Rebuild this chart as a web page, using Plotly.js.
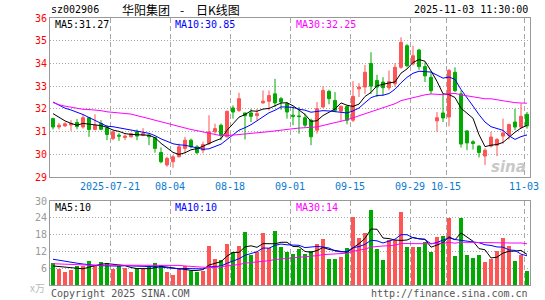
<!DOCTYPE html>
<html><head><meta charset="utf-8">
<script src="https://cdn.plot.ly/plotly-3.0.1.min.js"></script>
<style>html,body{margin:0;padding:0;background:#fff;}#chart{width:545px;height:300px;}</style>
</head><body><div id="chart"></div>
<script>
const dates = [
 '2025-07-07','2025-07-08','2025-07-09','2025-07-10','2025-07-11','2025-07-14','2025-07-15','2025-07-16','2025-07-17','2025-07-18',
 '2025-07-21','2025-07-22','2025-07-23','2025-07-24','2025-07-25','2025-07-28','2025-07-29','2025-07-30','2025-07-31',
 '2025-08-01','2025-08-04','2025-08-05','2025-08-06','2025-08-07','2025-08-08','2025-08-11','2025-08-12','2025-08-13','2025-08-14','2025-08-15',
 '2025-08-18','2025-08-19','2025-08-20','2025-08-21','2025-08-22','2025-08-25','2025-08-26','2025-08-27','2025-08-28','2025-08-29',
 '2025-09-01','2025-09-02','2025-09-03','2025-09-04','2025-09-05','2025-09-08','2025-09-09','2025-09-10','2025-09-11','2025-09-12',
 '2025-09-15','2025-09-16','2025-09-17','2025-09-18','2025-09-19','2025-09-22','2025-09-23','2025-09-24','2025-09-25','2025-09-26',
 '2025-09-29','2025-09-30','2025-10-09','2025-10-10','2025-10-13','2025-10-14','2025-10-15','2025-10-16','2025-10-17',
 '2025-10-20','2025-10-21','2025-10-22','2025-10-23','2025-10-24','2025-10-27','2025-10-28','2025-10-29','2025-10-30','2025-10-31',
 '2025-11-03'];
const open = [31.57,31.20,31.25,31.29,31.40,31.20,31.61,31.09,31.35,31.17,
 30.69,30.84,30.74,30.77,30.99,30.84,30.84,30.74,30.08,29.53,
 29.67,29.89,30.26,30.62,30.33,30.18,30.47,30.99,31.28,30.77,
 32.04,31.93,31.82,31.82,31.70,32.26,32.33,32.66,32.45,32.23,
 31.72,31.69,31.61,31.50,31.06,32.08,32.77,32.37,31.90,32.11,
 31.50,32.88,32.96,34.00,33.25,33.18,32.93,33.10,33.83,34.78,
 33.98,34.59,33.86,33.39,31.47,31.82,31.64,33.61,32.66,31.03,
 30.55,30.36,29.92,30.36,30.40,30.80,30.84,31.42,31.20,31.76];
const high = [31.61,31.38,31.41,31.50,31.55,31.76,31.62,31.76,31.50,31.28,
 31.03,30.94,30.88,30.94,31.09,31.15,30.88,30.77,30.30,29.89,
 29.96,30.47,30.77,30.69,30.40,30.55,31.72,31.35,31.35,31.93,
 32.15,32.71,31.82,32.00,32.00,32.81,32.81,33.32,32.52,32.30,
 32.05,32.08,31.79,31.57,32.30,32.99,32.84,32.74,32.15,32.15,
 33.22,33.13,33.93,34.49,33.50,33.39,33.69,34.01,35.15,34.85,
 34.78,34.64,34.05,33.61,31.86,32.66,33.76,33.83,32.81,31.06,
 30.62,30.40,30.26,30.99,30.72,31.57,31.35,32.00,32.23,31.86];
const low = [31.09,31.09,31.20,31.03,31.10,31.13,30.77,31.06,31.06,30.62,
 30.62,30.59,30.62,30.74,30.62,30.80,30.40,30.07,29.60,29.45,
 29.41,29.86,30.04,30.26,30.01,30.04,30.40,30.91,30.62,30.74,
 31.57,31.86,30.65,31.42,31.50,32.23,31.93,32.08,31.96,31.57,
 31.28,30.91,31.20,30.40,30.91,32.05,32.20,31.86,31.47,31.32,
 31.42,32.52,32.66,32.66,32.52,32.59,32.81,32.96,33.76,33.83,
 33.91,33.72,33.18,32.66,30.99,31.42,31.23,32.74,30.30,30.18,
 30.21,29.86,29.53,30.30,29.92,30.47,30.65,31.06,31.13,31.13];
const close = [31.20,31.28,31.34,31.35,31.22,31.61,31.09,31.28,31.10,30.87,
 30.99,30.80,30.80,30.91,30.80,30.91,30.77,30.26,29.67,29.82,
 29.89,30.33,30.62,30.33,30.07,30.43,30.99,31.13,30.84,31.89,
 31.86,32.45,31.70,31.67,31.79,32.34,32.59,32.26,32.30,31.86,
 31.67,31.66,31.28,30.77,32.01,32.81,32.45,31.93,32.11,31.50,
 32.55,32.96,33.61,33.00,32.96,32.93,33.20,33.83,34.93,33.90,
 34.34,33.86,33.45,32.80,31.61,31.60,33.69,32.80,30.45,30.50,
 30.48,30.08,30.18,30.76,30.65,30.94,31.31,31.20,31.67,31.25];
const volume = [7.9,5.6,4.6,5.3,6.7,6.7,8.5,7.1,8.1,7.8,
 5.8,6.9,6.0,4.7,5.9,5.8,6.7,7.8,7.1,4.7,
 3.6,5.7,6.9,5.1,4.7,5.1,13.8,9.3,8.8,14.5,
 11.8,13.8,19.1,10.8,11.8,18.4,13.2,19.4,13.5,11.8,
 10.9,12.8,10.9,12.1,14.8,16.4,9.3,9.3,10.0,13.2,
 24.4,16.9,18.7,26.8,12.7,8.8,15.9,16.1,26.1,13.4,
 13.4,13.4,15.5,11.8,17.3,17.6,23.8,10.2,24.0,10.6,
 9.6,10.6,8.1,9.4,12.0,16.9,13.8,8.5,10.6,4.9];
// moving-average values at the start of the window (earlier data not shown)
const ma5Head = [31.79,31.62,31.47,31.36];
const ma10Head = [32.30,32.17,32.03,31.95,31.86,31.75,31.62,31.50,31.38];
const ma30Head = [32.28,32.18,32.12,32.07,32.02,31.98,31.97,31.96,31.92,31.87,31.85,31.83,31.80,31.77,31.70,31.62,31.57,31.50,31.43,31.35,31.28,31.22,31.13,31.09,31.04,30.99,30.93,30.87,30.82];
const vma5Head = [6.8,6.6,6.4,6.2];
const vma10Head = [9.2,8.8,8.4,8.1,7.8,7.5,7.2,7.0,6.9];
const vma30Head = [7.6,7.5,7.4,7.2,7.1,7.1,7.1,7.1,7.1,7.1,7.1,7.1,7.1,7.1,7.0,7.0,7.0,7.0,7.0,7.0,7.0,7.0,6.8,6.6,6.4,6.2,6.2,6.3,6.5];
const tickDates = ['2025-07-21','2025-08-04','2025-08-18','2025-09-01','2025-09-15','2025-09-29','2025-10-15','2025-11-03'];
const priceTicks = [29,30,31,32,33,34,35,36];
const volTicks = [6,12,18,24,30];

const RED='#ff5555', GREEN='#00aa00', MONO='DejaVu Sans Mono';
const idx = dates.map((d,i)=>i);
function ma(arr,n,head){return arr.map((v,i)=>{if(i<n-1)return head[i];let s=0;for(let k=i-n+1;k<=i;k++)s+=arr[k];return s/n;});}
const m5=ma(close,5,ma5Head), m10=ma(close,10,ma10Head), m30=ma(close,30,ma30Head);
const v5=ma(volume,5,vma5Head), v10=ma(volume,10,vma10Head), v30=ma(volume,30,vma30Head);
const last=a=>a[a.length-1];
const volColors = close.map((c,i)=>c>=open[i]?RED:GREEN);

const traces = [
 {type:'candlestick',x:idx,open:open,high:high,low:low,close:close,xaxis:'x',yaxis:'y',
  increasing:{line:{color:RED,width:1},fillcolor:RED},decreasing:{line:{color:GREEN,width:1},fillcolor:GREEN},
  whiskerwidth:0,hoverinfo:'skip',showlegend:false},
 {type:'scatter',mode:'lines',x:idx,y:m5,line:{color:'#000000',width:1},xaxis:'x',yaxis:'y',hoverinfo:'skip',showlegend:false},
 {type:'scatter',mode:'lines',x:idx,y:m10,line:{color:'#0000ff',width:1},xaxis:'x',yaxis:'y',hoverinfo:'skip',showlegend:false},
 {type:'scatter',mode:'lines',x:idx,y:m30,line:{color:'#ff00ff',width:1},xaxis:'x',yaxis:'y',hoverinfo:'skip',showlegend:false},
 {type:'bar',x:idx,y:volume,marker:{color:volColors,line:{width:0}},width:0.83,xaxis:'x2',yaxis:'y2',hoverinfo:'skip',showlegend:false},
 {type:'scatter',mode:'lines',x:idx,y:v5,line:{color:'#000000',width:1},xaxis:'x2',yaxis:'y2',hoverinfo:'skip',showlegend:false},
 {type:'scatter',mode:'lines',x:idx,y:v10,line:{color:'#0000ff',width:1},xaxis:'x2',yaxis:'y2',hoverinfo:'skip',showlegend:false},
 {type:'scatter',mode:'lines',x:idx,y:v30,line:{color:'#ff00ff',width:1},xaxis:'x2',yaxis:'y2',hoverinfo:'skip',showlegend:false}
];

const L=50,R=530,T=18,B=285;
const px=x=>(x-L)/(R-L), py=y=>(B-y)/(B-T);
const tickVals = tickDates.map(d=>dates.indexOf(d)-0.5);
const tickText = tickDates.map((d,i)=>i===0?d:d.slice(5));
const gridC='#a8a8a8', lineC='#999999';
const xcommon = {range:[-0.5,79.5],showgrid:true,gridcolor:gridC,griddash:'5px,3px',gridwidth:1,
  showline:true,linecolor:lineC,linewidth:1,mirror:true,zeroline:false,tickvals:tickVals,fixedrange:true};
function ann(text,x,y,color,xanchor,size,font,bg){return {text:text,xref:'paper',yref:'paper',x:px(x),y:py(y),xanchor:xanchor||'left',yanchor:'middle',
  showarrow:false,font:{family:font||MONO,size:size||10,color:color},bgcolor:bg||'rgba(0,0,0,0)',borderpad:0};}
const CJK='Noto Sans CJK SC';
const layout = {
 width:545,height:300,margin:{l:L,r:545-R,t:T,b:300-B},paper_bgcolor:'#fff',plot_bgcolor:'#fff',
 showlegend:false,boxgap:0.3,bargap:0,
 xaxis:Object.assign({},xcommon,{anchor:'y',ticktext:tickText,ticks:'',tickfont:{family:MONO,size:10,color:'#0a7ad0'},rangeslider:{visible:false}}),
 xaxis2:Object.assign({},xcommon,{anchor:'y2',matches:'x',showticklabels:false,ticks:''}),
 yaxis:{domain:[py(177),1],range:[29,36],tickvals:priceTicks,ticks:'',tickfont:{family:MONO,size:10,color:'#ff0000'},
  showgrid:true,gridcolor:gridC,griddash:'1px,2px',showline:true,linecolor:lineC,mirror:true,zeroline:false,fixedrange:true},
 yaxis2:{domain:[0,py(201)],range:[0,30],tickvals:volTicks,ticks:'',tickfont:{family:MONO,size:10,color:'#999999'},
  showgrid:true,gridcolor:gridC,griddash:'1px,2px',showline:true,linecolor:lineC,mirror:true,zeroline:false,fixedrange:true},
 annotations:[
  ann('sz002906',50,10,'#000'),
  ann('华阳集团',121,10,'#000','left',12,CJK),
  ann('-',182,10,'#000','center',12,CJK),
  ann('日K线图',195,10,'#000','left',12,CJK),
  ann('2025-11-03 11:30:00',529,10,'#000','right'),
  ann('MA5:'+last(m5).toFixed(2),54,25,'#000','left',10,MONO,'#fff'),
  ann('MA10:'+last(m10).toFixed(2),174,25,'#0000ff','left',10,MONO,'#fff'),
  ann('MA30:'+last(m30).toFixed(2),295,25,'#ff00ff','left',10,MONO,'#fff'),
  ann('MA5:'+Math.floor(last(v5)),54,207,'#000','left',10,MONO,'#fff'),
  ann('MA10:'+Math.floor(last(v10)),174,207,'#0000ff','left',10,MONO,'#fff'),
  ann('MA30:'+Math.floor(last(v30)),295,207,'#ff00ff','left',10,MONO,'#fff'),
  ann('x万',46,287,'#bbbbbb','right',10,CJK),
  ann('Copyright 2025 SINA.COM',50,293,'#555555'),
  ann('http://finance.sina.com.cn',529,293,'#555555','right'),
  ann('<b><i>sina</i></b>',527,167,'#c8c8c8','right',15,'DejaVu Sans')
 ]
};
Plotly.newPlot('chart',traces,layout,{staticPlot:true,displayModeBar:false});
</script></body></html>
